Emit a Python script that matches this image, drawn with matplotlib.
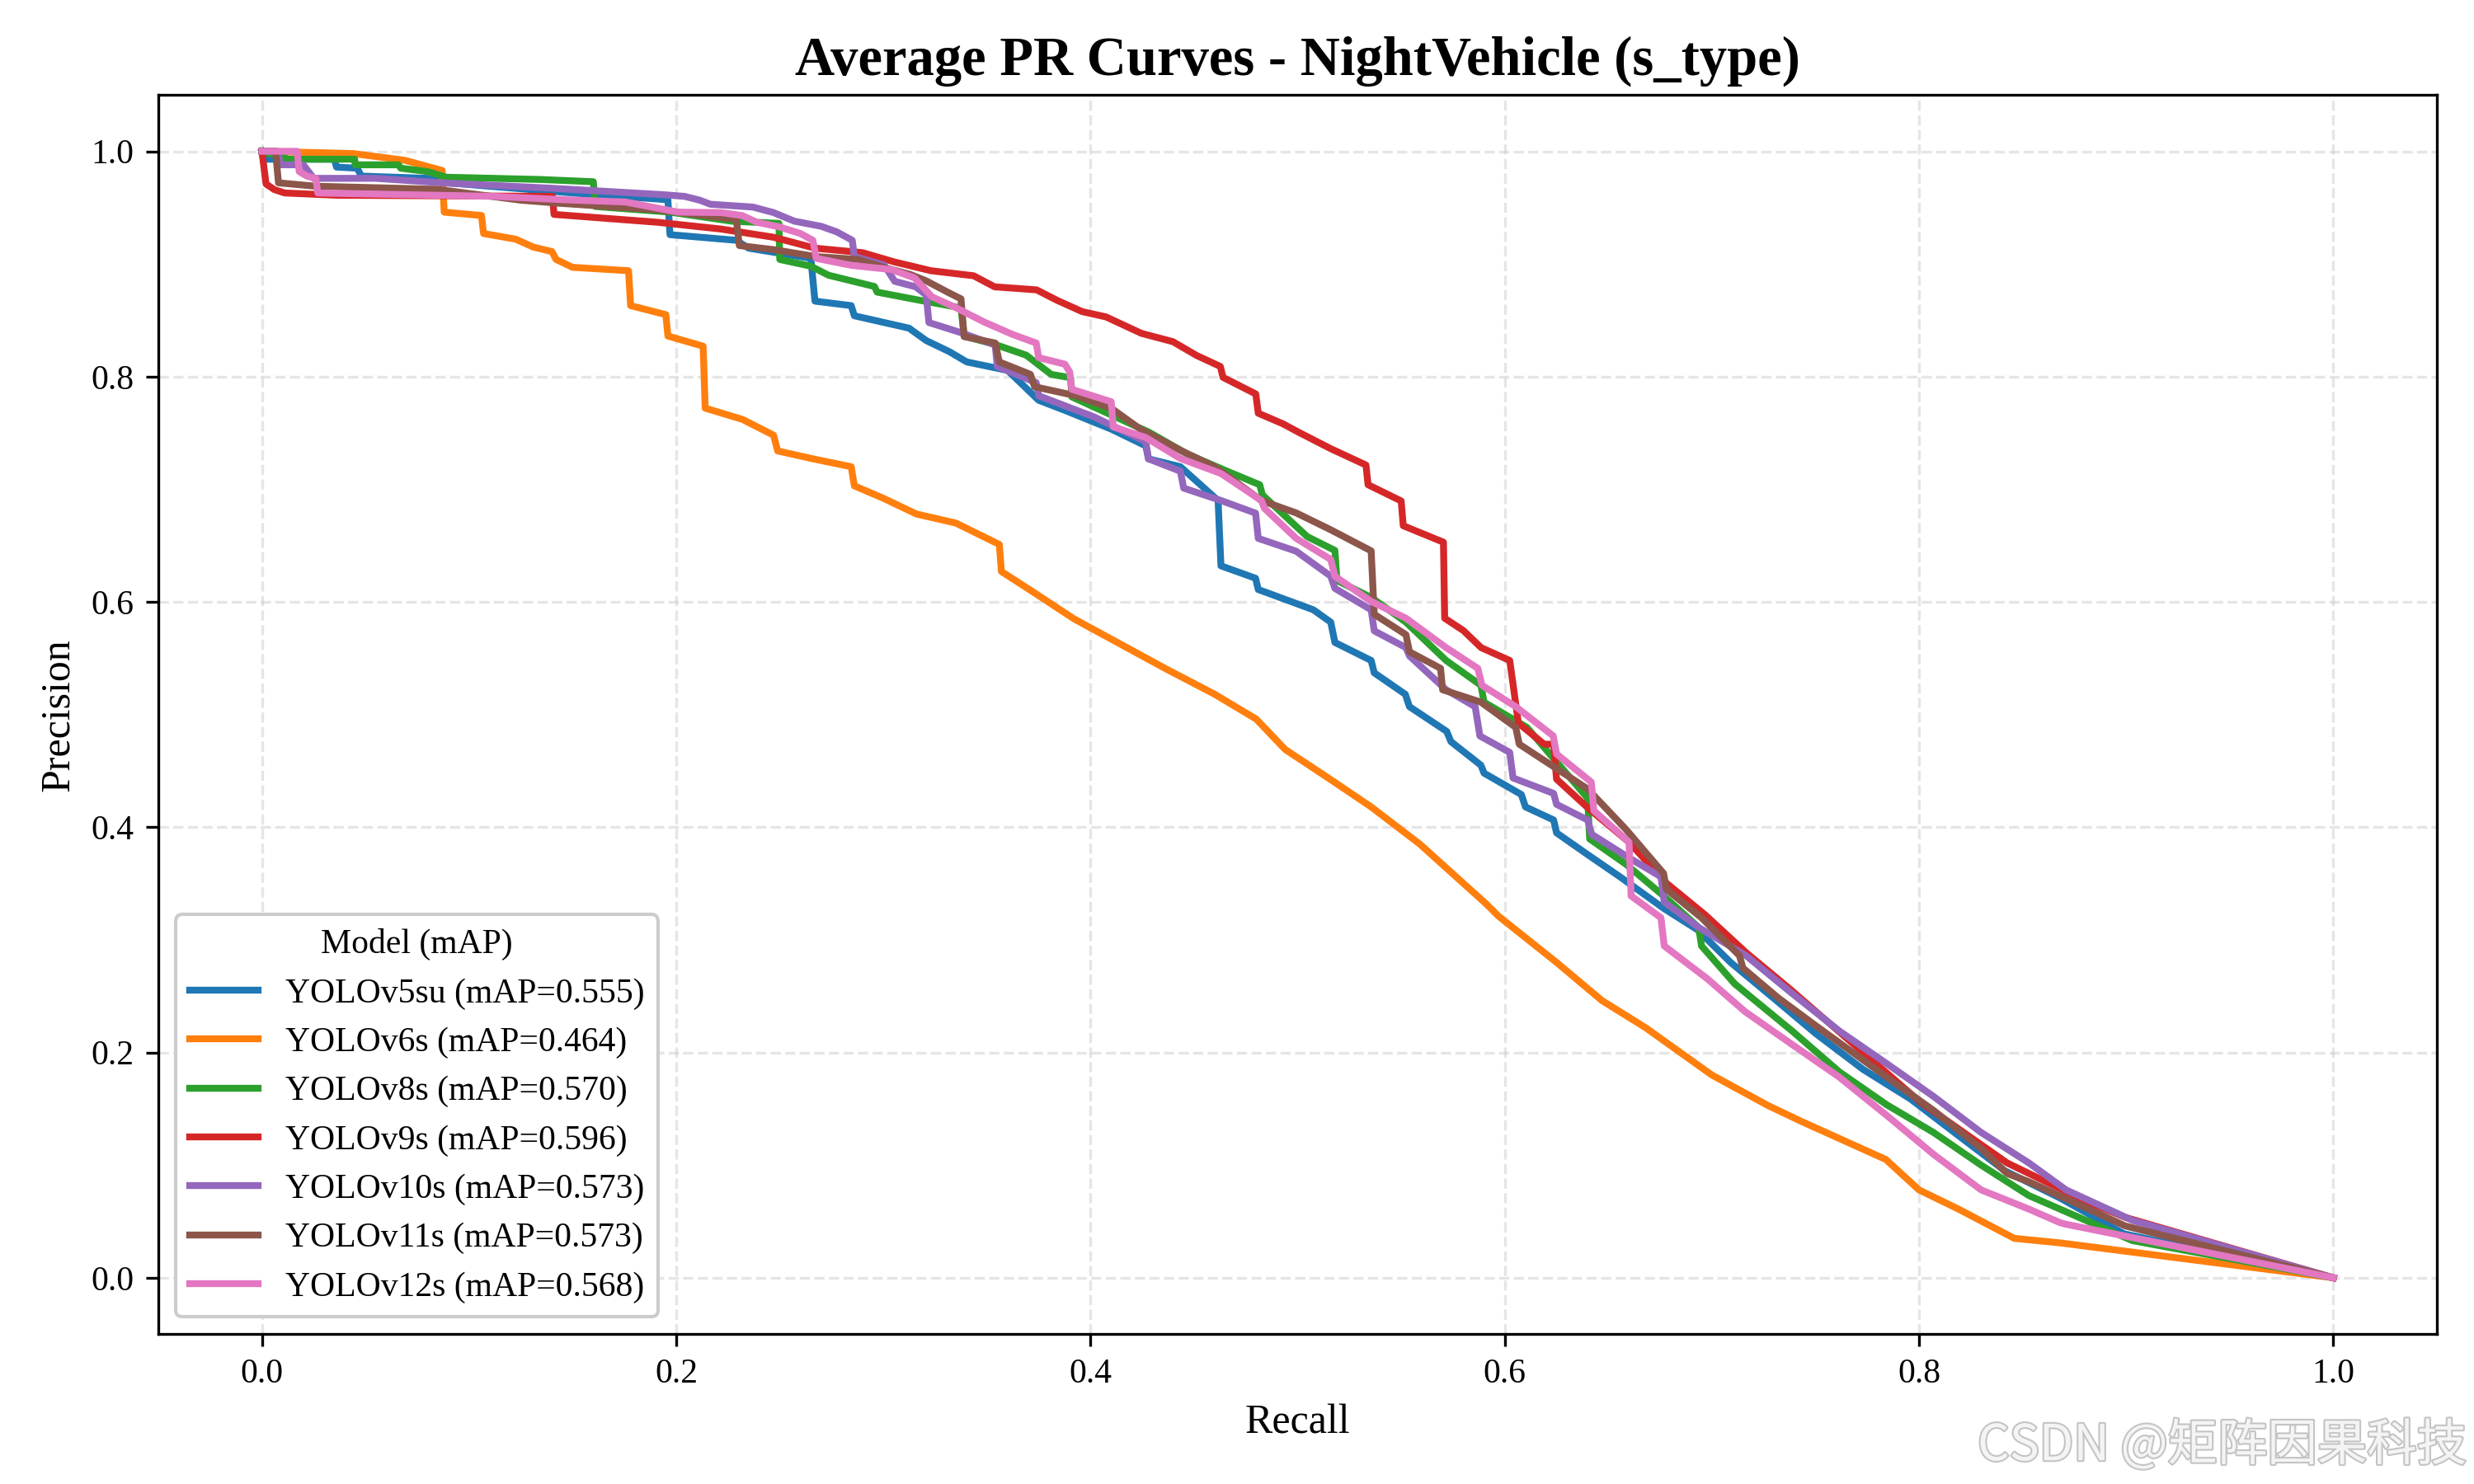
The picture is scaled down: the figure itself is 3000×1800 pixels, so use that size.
import matplotlib
matplotlib.use("Agg")
import matplotlib.pyplot as plt
import matplotlib.patheffects as pe

plt.rcParams['font.family'] = ['Liberation Serif', 'DejaVu Serif']

# ---------------- data ----------------
models = ["YOLOv5su", "YOLOv6s", "YOLOv8s", "YOLOv9s", "YOLOv10s", "YOLOv11s", "YOLOv12s"]
maps = [0.555, 0.464, 0.570, 0.596, 0.573, 0.573, 0.568]
colors = ["#1f77b4", "#ff7f0e", "#2ca02c", "#d62728", "#9467bd", "#8c564b", "#e377c2"]

v5su_r = [0.0, 0.002, 0.035, 0.036, 0.046, 0.048, 0.08, 0.09, 0.15, 0.196, 0.197, 0.229, 0.235, 0.265,
          0.267, 0.2845, 0.286, 0.3124, 0.3207, 0.332, 0.3403, 0.36, 0.375, 0.3877, 0.410, 0.4267, 0.428,
          0.4434, 0.4616, 0.463, 0.4797, 0.481, 0.5076, 0.516, 0.518, 0.5355, 0.537, 0.552, 0.554, 0.572,
          0.574, 0.5885, 0.590, 0.608, 0.610, 0.6236, 0.625, 0.640, 0.6556, 0.6767, 0.693, 0.709, 0.7296,
          0.750, 0.773, 0.796, 0.8187, 0.8414, 0.868, 0.899, 1.0]
v5su_p = [1.0, 0.993, 0.993, 0.986, 0.985, 0.978, 0.976, 0.972, 0.963, 0.957, 0.926, 0.921, 0.914, 0.905,
          0.867, 0.863, 0.854, 0.843, 0.832, 0.822, 0.813, 0.8055, 0.779, 0.770, 0.7534, 0.7385, 0.727,
          0.720, 0.690, 0.632, 0.621, 0.611, 0.593, 0.582, 0.564, 0.548, 0.537, 0.518, 0.507, 0.485,
          0.476, 0.455, 0.448, 0.429, 0.418, 0.4064, 0.395, 0.3757, 0.356, 0.328, 0.309, 0.280, 0.2485,
          0.217, 0.185, 0.1586, 0.1267, 0.095, 0.0709, 0.039, 0.0]

v6s_r = [0.0, 0.044, 0.069, 0.087, 0.088, 0.106, 0.107, 0.1225, 0.131, 0.14, 0.142, 0.15, 0.177, 0.178,
         0.195, 0.196, 0.213, 0.214, 0.232, 0.247, 0.249, 0.266, 0.2845, 0.286, 0.300, 0.316, 0.335, 0.356,
         0.357, 0.373, 0.392, 0.407, 0.437, 0.460, 0.480, 0.494, 0.517, 0.5355, 0.559, 0.591, 0.597, 0.625,
         0.647, 0.668, 0.700, 0.727, 0.743, 0.784, 0.800, 0.819, 0.846, 0.868, 1.0]
v6s_p = [1.0, 0.998, 0.992, 0.983, 0.946, 0.943, 0.927, 0.922, 0.915, 0.911, 0.904, 0.897, 0.894, 0.863,
         0.855, 0.836, 0.827, 0.772, 0.762, 0.748, 0.734, 0.727, 0.720, 0.703, 0.692, 0.678, 0.670, 0.651,
         0.627, 0.608, 0.585, 0.570, 0.540, 0.518, 0.496, 0.469, 0.441, 0.418, 0.385, 0.332, 0.321, 0.280,
         0.246, 0.222, 0.180, 0.153, 0.139, 0.105, 0.078, 0.061, 0.035, 0.031, 0.0]

v8s_r = [0.0, 0.013, 0.0448, 0.045, 0.066, 0.067, 0.080, 0.089, 0.134, 0.160, 0.161, 0.197, 0.2267, 0.2496,
         0.250, 0.265, 0.2735, 0.2957, 0.297, 0.318, 0.3375, 0.339, 0.354, 0.369, 0.381, 0.3904, 0.391,
         0.4284, 0.447, 0.466, 0.4817, 0.483, 0.5046, 0.518, 0.519, 0.5355, 0.5523, 0.5717, 0.5885, 0.590,
         0.6107, 0.640, 0.641, 0.6586, 0.6767, 0.6936, 0.695, 0.711, 0.7388, 0.7616, 0.7845, 0.807, 0.830,
         0.853, 0.868, 0.903, 1.0]
v8s_p = [1.0, 0.993, 0.993, 0.988, 0.988, 0.985, 0.982, 0.977, 0.975, 0.973, 0.951, 0.946, 0.938, 0.936,
         0.904, 0.898, 0.890, 0.880, 0.875, 0.8676, 0.861, 0.836, 0.8285, 0.819, 0.802, 0.799, 0.782,
         0.7505, 0.731, 0.716, 0.704, 0.695, 0.658, 0.6457, 0.619, 0.604, 0.582, 0.548, 0.526, 0.511,
         0.4886, 0.4258, 0.3896, 0.367, 0.339, 0.311, 0.2946, 0.261, 0.219, 0.1827, 0.1535, 0.129, 0.100,
         0.073, 0.061, 0.033, 0.0]

v9s_r = [0.0, 0.002, 0.006, 0.011, 0.036, 0.1403, 0.141, 0.191, 0.2216, 0.247, 0.267, 0.29, 0.3055, 0.323,
         0.3436, 0.3537, 0.374, 0.384, 0.396, 0.4075, 0.4246, 0.4398, 0.4513, 0.4627, 0.464, 0.4798, 0.481,
         0.493, 0.5006, 0.516, 0.533, 0.534, 0.550, 0.551, 0.5704, 0.571, 0.58, 0.5886, 0.6024, 0.6066,
         0.619, 0.6236, 0.625, 0.640, 0.660, 0.678, 0.6966, 0.7165, 0.738, 0.8006, 0.8425, 0.8806, 0.8996,
         1.0]
v9s_p = [1.0, 0.971, 0.966, 0.963, 0.961, 0.960, 0.944, 0.937, 0.931, 0.9237, 0.914, 0.910, 0.9017, 0.894,
         0.8895, 0.8797, 0.877, 0.8676, 0.8577, 0.853, 0.8384, 0.831, 0.8187, 0.809, 0.7993, 0.7846, 0.7675,
         0.758, 0.7505, 0.736, 0.7215, 0.704, 0.6896, 0.6676, 0.653, 0.5855, 0.5746, 0.5594, 0.548, 0.4923,
         0.4737, 0.4737, 0.4427, 0.4174, 0.3867, 0.3504, 0.3224, 0.2887, 0.2558, 0.156, 0.102, 0.068, 0.0536,
         0.0]

v10s_r = [0.0, 0.0075, 0.009, 0.020, 0.025, 0.055, 0.087, 0.142, 0.1936, 0.204, 0.2114, 0.2165, 0.237,
          0.247, 0.257, 0.270, 0.2775, 0.285, 0.286, 0.3004, 0.3055, 0.3156, 0.3207, 0.322, 0.3375, 0.354,
          0.355, 0.3738, 0.375, 0.4016, 0.4267, 0.428, 0.4434, 0.445, 0.463, 0.4797, 0.481, 0.4993, 0.516,
          0.518, 0.5355, 0.537, 0.5523, 0.554, 0.5717, 0.5857, 0.588, 0.6024, 0.604, 0.6236, 0.625, 0.640,
          0.642, 0.660, 0.6754, 0.677, 0.6936, 0.7165, 0.738, 0.7616, 0.7845, 0.807, 0.830, 0.853, 0.871,
          0.903, 1.0]
v10s_p = [1.0, 1.0, 0.988, 0.988, 0.976, 0.976, 0.972, 0.967, 0.9615, 0.9600, 0.9566, 0.953, 0.9505,
          0.9456, 0.938, 0.9334, 0.9285, 0.921, 0.9066, 0.899, 0.8846, 0.8797, 0.8724, 0.848, 0.839, 0.828,
          0.809, 0.7946, 0.783, 0.7643, 0.7422, 0.727, 0.716, 0.701, 0.690, 0.6788, 0.6564, 0.645, 0.6228,
          0.612, 0.593, 0.5743, 0.5594, 0.552, 0.522, 0.507, 0.481, 0.4664, 0.4437, 0.430, 0.4203, 0.4064,
          0.3937, 0.3728, 0.356, 0.3336, 0.311, 0.286, 0.2535, 0.219, 0.190, 0.161, 0.129, 0.102, 0.078,
          0.051, 0.0]

v11s_r = [0.0, 0.0066, 0.008, 0.026, 0.0844, 0.125, 0.1428, 0.1708, 0.191, 0.229, 0.2305, 0.247, 0.2673,
          0.2877, 0.3004, 0.313, 0.3207, 0.331, 0.3375, 0.339, 0.354, 0.356, 0.371, 0.373, 0.393, 0.410,
          0.4239, 0.4434, 0.46, 0.4825, 0.4993, 0.516, 0.5355, 0.537, 0.5523, 0.554, 0.569, 0.570, 0.5885,
          0.6053, 0.607, 0.640, 0.6586, 0.6767, 0.678, 0.695, 0.7133, 0.715, 0.732, 0.750, 0.7845, 0.807,
          0.830, 0.8425, 0.853, 0.8996, 1.0]
v11s_p = [1.0, 1.0, 0.972, 0.969, 0.9663, 0.9566, 0.954, 0.9505, 0.948, 0.9395, 0.9163, 0.9127, 0.9066,
          0.904, 0.8968, 0.8907, 0.885, 0.875, 0.869, 0.8355, 0.8298, 0.813, 0.802, 0.791, 0.783, 0.772,
          0.7536, 0.7346, 0.72, 0.69, 0.679, 0.664, 0.6453, 0.589, 0.5709, 0.5557, 0.541, 0.522, 0.511,
          0.4886, 0.4737, 0.434, 0.3979, 0.3589, 0.345, 0.3196, 0.286, 0.2749, 0.2485, 0.224, 0.178, 0.1486,
          0.1147, 0.0926, 0.0853, 0.046, 0.0]

v12s_r = [0.0, 0.017, 0.018, 0.0217, 0.026, 0.027, 0.112, 0.146, 0.1756, 0.1868, 0.2009, 0.2216, 0.2318,
          0.239, 0.2496, 0.26, 0.266, 0.2676, 0.2845, 0.304, 0.315, 0.3235, 0.3347, 0.3486, 0.3626, 0.3738,
          0.375, 0.3877, 0.390, 0.391, 0.410, 0.411, 0.4267, 0.4434, 0.463, 0.4825, 0.484, 0.4993, 0.516,
          0.518, 0.5355, 0.5523, 0.5717, 0.587, 0.589, 0.6053, 0.6234, 0.625, 0.6418, 0.643, 0.660, 0.661,
          0.6754, 0.677, 0.6977, 0.716, 0.7388, 0.7616, 0.7845, 0.807, 0.830, 0.853, 0.868, 0.871, 1.0]
v12s_p = [1.0, 1.0, 0.982, 0.978, 0.976, 0.963, 0.960, 0.957, 0.955, 0.951, 0.946, 0.9456, 0.943,
          0.937, 0.933, 0.927, 0.921, 0.905, 0.8988, 0.895, 0.8877, 0.8708, 0.8615, 0.8485, 0.8373, 0.8298,
          0.8168, 0.811, 0.804, 0.7887, 0.7777, 0.7553, 0.7459, 0.7273, 0.714, 0.690, 0.683, 0.6564, 0.6377,
          0.6228, 0.6004, 0.5855, 0.5594, 0.541, 0.526, 0.507, 0.481, 0.465, 0.440, 0.4147, 0.3867, 0.339,
          0.3196, 0.2946, 0.2656, 0.2363, 0.207, 0.178, 0.144, 0.1096, 0.078, 0.061, 0.049, 0.0475, 0.0]

recalls = [v5su_r, v6s_r, v8s_r, v9s_r, v10s_r, v11s_r, v12s_r]
precisions = [v5su_p, v6s_p, v8s_p, v9s_p, v10s_p, v11s_p, v12s_p]

title = "Average PR Curves - NightVehicle (s_type)"
watermark = "CSDN @矩阵因果科技"

# ---------------- plot ----------------
fig, ax = plt.subplots(figsize=(10, 6), dpi=300)
fig.subplots_adjust(left=0.064, right=0.985, top=0.936, bottom=0.101)

for name, m, c, r, p in zip(models, maps, colors, recalls, precisions):
    ax.plot(r, p, color=c, linewidth=2, label=f"{name} (mAP={m:.3f})")

ax.set_title(title, fontsize=16, fontweight="bold")
ax.set_xlabel("Recall", fontsize=12)
ax.set_ylabel("Precision", fontsize=12)
ax.tick_params(labelsize=10)
ax.grid(True, linestyle="--", alpha=0.5, color="#cccccc")
ax.set_axisbelow(True)

leg = ax.legend(title="Model (mAP)", loc="lower left", fontsize=10, title_fontsize=10,
                framealpha=1.0, edgecolor="#cccccc")

fig.text(0.997, 0.016, watermark, ha="right", va="baseline", fontsize=14.5,
         color="#f4f4f4", family=["Noto Sans CJK SC", "DejaVu Sans"],
         path_effects=[pe.withStroke(linewidth=1.0, foreground="#c4c4c4")])

fig.savefig("out.png", dpi=300)
